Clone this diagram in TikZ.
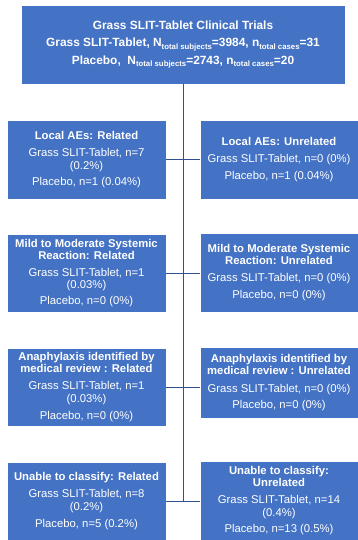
\documentclass[tikz,border=0pt]{standalone}
\usepackage{fontspec}
\setmainfont{Liberation Sans}
\definecolor{boxblue}{HTML}{4472C4}
\definecolor{linkblue}{HTML}{2F528F}
\newcommand\mysub[1]{\raisebox{-0.4ex}{\fontsize{7.8}{8}\selectfont #1}}
\tikzset{
  bluebox/.style={fill=boxblue, draw=white, line width=0.4pt, text=white, inner sep=0pt, align=center,
    font=\fontsize{11.3}{12.2}\selectfont},
  leftbox/.style={bluebox, minimum width=159pt},
  rightbox/.style={bluebox, minimum width=158pt},
  link/.style={draw=linkblue, line width=1pt}
}
\begin{document}
\begin{tikzpicture}[x=1pt,y=-1pt]
\useasboundingbox (0,0) rectangle (358,540);
\node[bluebox, minimum width=324pt, minimum height=79pt, font=\fontsize{11.9}{17.5}\selectfont\bfseries] (top) at (183,44.5)
  {Grass SLIT-Tablet Clinical Trials\\
   Grass SLIT-Tablet, N\mysub{total subjects}=3984, n\mysub{total cases}=31\\
   Placebo,\ \ N\mysub{total subjects}=2743, n\mysub{total cases}=20};

\node[leftbox, minimum height=79pt] (l1) at (86.5,159.5)
  {\textbf{Local AEs: Related}\\[5pt]Grass SLIT-Tablet, n=7\\(0.2\%)\\[4pt]Placebo, n=1 (0.04\%)};
\node[rightbox, minimum height=79pt] (r1) at (279,159.5)
  {\textbf{Local AEs: Unrelated}\\[5pt]Grass SLIT-Tablet, n=0 (0\%)\\[5pt]Placebo, n=1 (0.04\%)};

\node[leftbox, minimum height=78pt] (l2) at (86.5,273)
  {\textbf{Mild to Moderate Systemic}\\\textbf{Reaction: Related}\\[5pt]Grass SLIT-Tablet, n=1\\(0.03\%)\\[4pt]Placebo, n=0 (0\%)};
\node[rightbox, minimum height=79pt] (r2) at (279,272.5)
  {\textbf{Mild to Moderate Systemic}\\\textbf{Reaction: Unrelated}\\[5pt]Grass SLIT-Tablet, n=0 (0\%)\\[5pt]Placebo, n=0 (0\%)};

\node[leftbox, minimum height=78pt] (l3) at (86.5,387)
  {\textbf{Anaphylaxis identified by}\\\textbf{medical review : Related}\\[5pt]Grass SLIT-Tablet, n=1\\(0.03\%)\\[5pt]Placebo, n=0 (0\%)};
\node[rightbox, minimum height=71pt] (r3) at (279,382.5)
  {\textbf{Anaphylaxis identified by}\\\textbf{medical review : Unrelated}\\[5pt]Grass SLIT-Tablet, n=0 (0\%)\\[4pt]Placebo, n=0 (0\%)};

\node[leftbox, minimum height=78pt] (l4) at (86.5,501)
  {\textbf{Unable to classify: Related}\\[5pt]Grass SLIT-Tablet, n=8\\(0.2\%)\\[5pt]Placebo, n=5 (0.2\%)};
\node[rightbox, minimum height=79pt] (r4) at (279,500.5)
  {\textbf{Unable to classify:}\\\textbf{Unrelated}\\[5pt]Grass SLIT-Tablet, n=14\\(0.4\%)\\[4pt]Placebo, n=13 (0.5\%)};

\coordinate (trunkend) at (top.south |- l4.east);
\draw[link] (top.south) -- (trunkend);
\draw[link] (l1.east) -- (l1.east -| r1.west);
\draw[link] (l2.east) -- (l2.east -| r2.west);
\draw[link] (l3.east) -- (l3.east -| r3.west);
\draw[link] (l4.east) -- (l4.east -| r4.west);
\end{tikzpicture}
\end{document}
